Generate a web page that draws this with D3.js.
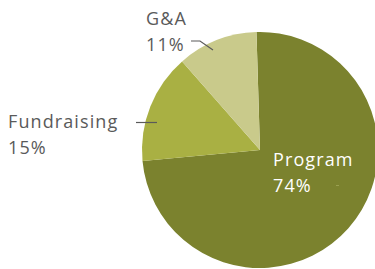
<!DOCTYPE html>
<html>
<head>
<meta charset="utf-8">
<script src="https://cdn.jsdelivr.net/npm/d3@7"></script>
<style>
  html, body { margin: 0; padding: 0; background: #fff; }
  text { font-family: "Open Sans", sans-serif; font-size: 18px; letter-spacing: 1.1px; }
</style>
</head>
<body>
<svg id="chart" width="375" height="269"></svg>
<script>
// chart data
const categories = ['Program', 'Fundraising', 'G&A']
const values = [74, 15, 11]
const colors = ['#7b822e', '#a9b043', '#c9ca8b']

const W = 375, H = 269
const cx = 260, cy = 150, R = 118

const svg = d3.select('#chart')
const g = svg.append('g').attr('transform', `translate(${cx},${cy})`)

const pie = d3.pie()
    .sort(null)
    .value(d => d)
    .startAngle(-0.03)
    .endAngle(-0.03 + Math.PI * 2)

const arc = d3.arc().innerRadius(0).outerRadius(R)

const slices = pie(values)

g.selectAll('path')
    .data(slices)
    .enter()
    .append('path')
    .attr('d', arc)
    .attr('fill', (d, i) => colors[i])

// label placement (pixel positions relative to page)
const labelPos = [
    { x: 273, y: 166, fill: '#ffffff' },
    { x: 8, y: 128, fill: '#5a5a5a' },
    { x: 146, y: 25, fill: '#5a5a5a' }
]

const labels = svg.selectAll('g.lbl')
    .data(slices)
    .enter()
    .append('g')
    .attr('class', 'lbl')

labels.append('text')
    .attr('x', (d, i) => labelPos[i].x)
    .attr('y', (d, i) => labelPos[i].y)
    .attr('fill', (d, i) => labelPos[i].fill)
    .text((d, i) => categories[i])

labels.append('text')
    .attr('x', (d, i) => labelPos[i].x)
    .attr('y', (d, i) => labelPos[i].y + 26)
    .attr('fill', (d, i) => labelPos[i].fill)
    .text((d, i) => values[i] + '%')

// leader lines
svg.append('polyline')
    .attr('points', '191,41 200,41 213,50')
    .attr('fill', 'none')
    .attr('stroke', '#5a5a5a')
    .attr('stroke-width', 1.2)
svg.append('line')
    .attr('x1', 136).attr('y1', 122.5)
    .attr('x2', 157).attr('y2', 122.5)
    .attr('stroke', '#5a5a5a')
    .attr('stroke-width', 1.2)
svg.append('line')
    .attr('x1', 336).attr('y1', 185.5)
    .attr('x2', 339).attr('y2', 185.5)
    .attr('stroke', '#9aa050')
    .attr('stroke-width', 1)
</script>
</body>
</html>
